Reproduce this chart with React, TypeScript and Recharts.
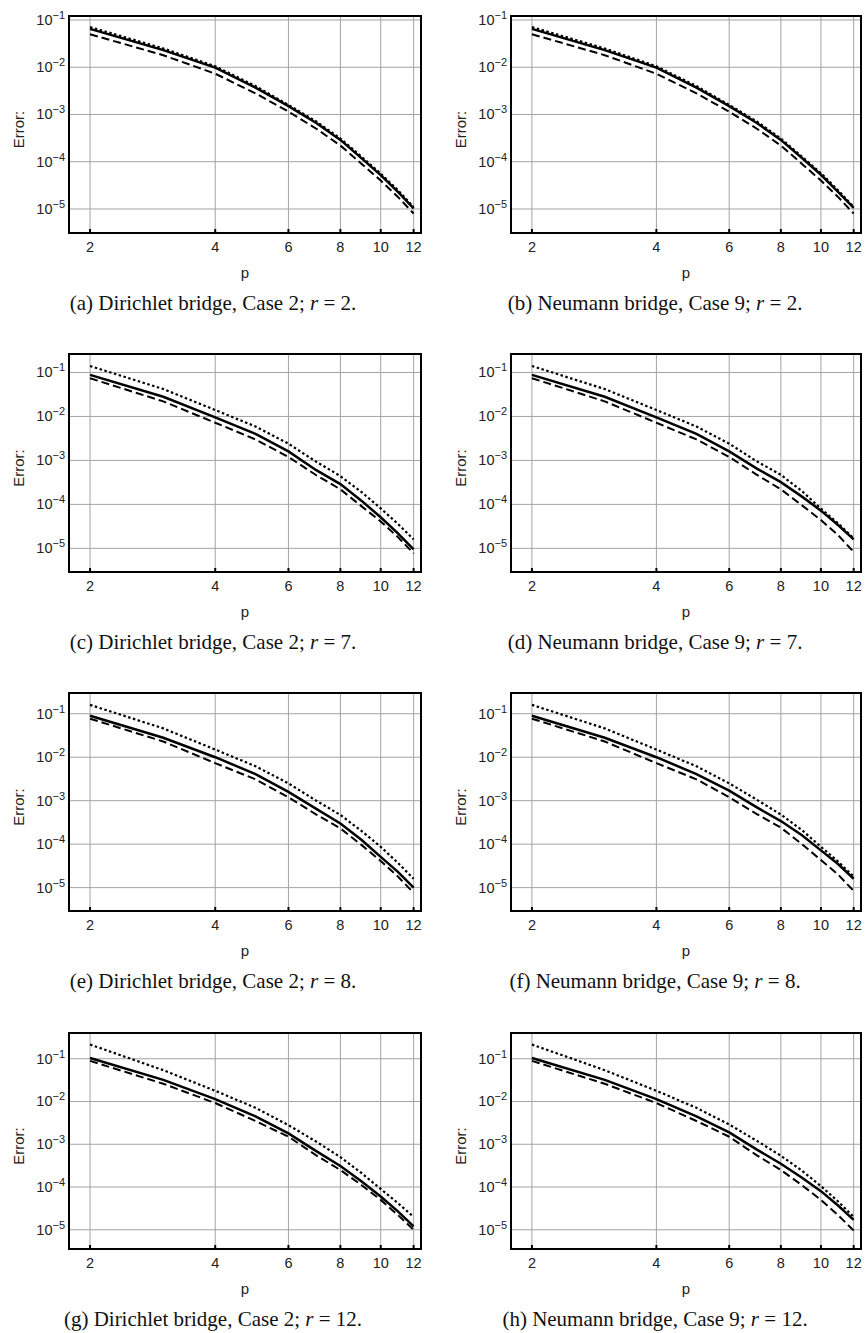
import React from "react";
import { LineChart, Line, XAxis, YAxis, CartesianGrid, ReferenceArea } from "recharts";

// polynomial degree p
const P = [2, 3, 4, 5, 6, 7, 8, 9, 10, 11, 12];

// (a) Dirichlet bridge, Case 2; r = 2
const aSolid = [0.065, 0.023, 0.0098, 0.0037, 0.0015, 6.6e-4, 2.9e-4, 1.18e-4, 5.2e-5, 2.3e-5, 1.03e-5];
const aDashed = [0.05, 0.018, 0.0073, 0.0028, 0.00115, 5e-4, 2.2e-4, 9e-5, 4e-5, 1.8e-5, 8e-6];
const aDotted = [0.071, 0.025, 0.0105, 0.004, 0.0016, 7.1e-4, 3.1e-4, 1.27e-4, 5.6e-5, 2.5e-5, 1.1e-5];

// (b) Neumann bridge, Case 9; r = 2
const bSolid = [0.065, 0.023, 0.0098, 0.0037, 0.0015, 6.6e-4, 2.9e-4, 1.2e-4, 5.3e-5, 2.3e-5, 1.05e-5];
const bDashed = [0.05, 0.018, 0.0073, 0.0028, 0.00115, 5e-4, 2.2e-4, 9e-5, 4e-5, 1.8e-5, 8e-6];
const bDotted = [0.071, 0.025, 0.0105, 0.004, 0.0016, 7.1e-4, 3.1e-4, 1.28e-4, 5.7e-5, 2.5e-5, 1.1e-5];

// (c) Dirichlet bridge, Case 2; r = 7
const cSolid = [0.088, 0.028, 0.0095, 0.004, 0.0016, 6e-4, 2.9e-4, 1.2e-4, 5.1e-5, 2.2e-5, 9.5e-6];
const cDashed = [0.074, 0.022, 0.0072, 0.003, 0.0012, 4.6e-4, 2.2e-4, 9e-5, 4.1e-5, 1.8e-5, 7.7e-6];
const cDotted = [0.14, 0.042, 0.014, 0.0059, 0.0024, 9.3e-4, 4.4e-4, 1.9e-4, 8.1e-5, 3.6e-5, 1.6e-5];

// (d) Neumann bridge, Case 9; r = 7
const dSolid = [0.088, 0.028, 0.0095, 0.004, 0.0016, 6.5e-4, 3.2e-4, 1.5e-4, 7.2e-5, 3.4e-5, 1.6e-5];
const dDashed = [0.074, 0.022, 0.0072, 0.003, 0.0012, 4.7e-4, 2.2e-4, 9.5e-5, 4.4e-5, 2e-5, 8.3e-6];
const dDotted = [0.14, 0.042, 0.014, 0.0059, 0.0024, 9.5e-4, 4.7e-4, 2e-4, 8e-5, 3.7e-5, 1.7e-5];

// (e) Dirichlet bridge, Case 2; r = 8
const eSolid = [0.09, 0.028, 0.01, 0.0041, 0.0016, 6.5e-4, 3e-4, 1.25e-4, 5.1e-5, 2.3e-5, 1e-5];
const eDashed = [0.077, 0.023, 0.0073, 0.0031, 0.0012, 4.8e-4, 2.3e-4, 9.5e-5, 4.1e-5, 1.8e-5, 7.6e-6];
const eDotted = [0.16, 0.046, 0.015, 0.0062, 0.0025, 1e-3, 4.7e-4, 2e-4, 8.7e-5, 3.7e-5, 1.6e-5];

// (f) Neumann bridge, Case 9; r = 8
const fSolid = [0.09, 0.028, 0.01, 0.0041, 0.0017, 7e-4, 3.4e-4, 1.6e-4, 7.2e-5, 3.5e-5, 1.6e-5];
const fDashed = [0.077, 0.023, 0.0073, 0.0031, 0.0012, 4.9e-4, 2.4e-4, 1e-4, 4.3e-5, 2e-5, 8.4e-6];
const fDotted = [0.16, 0.046, 0.015, 0.0062, 0.0025, 1.05e-3, 4.8e-4, 2.1e-4, 8.7e-5, 4e-5, 1.8e-5];

// (g) Dirichlet bridge, Case 2; r = 12
const gSolid = [0.104, 0.032, 0.0114, 0.0045, 0.0018, 6.9e-4, 3.1e-4, 1.35e-4, 6e-5, 2.7e-5, 1.2e-5];
const gDashed = [0.089, 0.026, 0.0092, 0.0035, 0.0015, 5.5e-4, 2.5e-4, 1.1e-4, 5e-5, 2.2e-5, 1e-5];
const gDotted = [0.215, 0.054, 0.0178, 0.0071, 0.0028, 1.15e-3, 5e-4, 2.1e-4, 9e-5, 4.2e-5, 2e-5];

// (h) Neumann bridge, Case 9; r = 12
const hSolid = [0.104, 0.032, 0.0114, 0.0045, 0.0019, 7.5e-4, 3.5e-4, 1.65e-4, 8e-5, 3.7e-5, 1.7e-5];
const hDashed = [0.089, 0.026, 0.0092, 0.0035, 0.0015, 5.5e-4, 2.5e-4, 1.1e-4, 5e-5, 2.2e-5, 9.6e-6];
const hDotted = [0.215, 0.054, 0.0178, 0.0071, 0.0029, 1.2e-3, 5.4e-4, 2.4e-4, 1.05e-4, 4.6e-5, 2e-5];

const xTicks = [2, 4, 6, 8, 10, 12];
const yTicks = [1e-1, 1e-2, 1e-3, 1e-4, 1e-5];
const xDomain: [number, number] = [1.78, 12.5];

const SANS = "'Liberation Sans', Arial, sans-serif";
const SERIF = "'Liberation Serif', 'Times New Roman', serif";

const build = (solid: number[], dashed: number[], dotted: number[]) =>
  P.map((p, i) => ({ p, solid: solid[i], dashed: dashed[i], dotted: dotted[i] }));

const PowTick = ({ x, y, payload }: any) => {
  const e = Math.round(Math.log10(payload.value));
  return (
    <text x={x} y={y + 5} textAnchor="end" fontSize={14.5} fontFamily={SANS} fill="#222">
      10
      <tspan dy={-6} fontSize={11}>{"\u2212" + String(-e)}</tspan>
    </text>
  );
};

const errorLabel = (props: any) => {
  const vb = props.viewBox;
  const cx = vb.x + vb.width - 51;
  const cy = vb.y + vb.height / 2 + 5;
  return (
    <text
      x={cx}
      y={cy}
      transform={`rotate(-90 ${cx} ${cy})`}
      textAnchor="middle"
      dominantBaseline="central"
      fontSize={15}
      fontFamily={SANS}
      fill="#222"
    >
      Error:
    </text>
  );
};

const pLabel = (props: any) => {
  const vb = props.viewBox;
  return (
    <text x={vb.x + vb.width / 2} y={vb.y + 45} textAnchor="middle" fontSize={15} fontFamily={SANS} fill="#222">
      p
    </text>
  );
};

type PanelProps = {
  colX: number;
  plotLeft: number;
  plotW: number;
  plotTop: number;
  plotH: number;
  yDomain: [number, number];
  data: any[];
  captionX: number;
  tag: string;
  name: string;
  r: number;
};

function Panel({ colX, plotLeft, plotW, plotTop, plotH, yDomain, data, captionX, tag, name, r }: PanelProps) {
  const W = 433;
  const H = plotH + 10 + 90;
  return (
    <>
      <div style={{ position: "absolute", left: colX, top: plotTop - 10 }}>
        <LineChart
          width={W}
          height={H}
          data={data}
          margin={{ top: 10, left: plotLeft - colX - 60, right: W - (plotLeft - colX) - plotW, bottom: 60 }}
        >
          <CartesianGrid stroke="#a3a3a3" strokeWidth={1} />
          <XAxis
            dataKey="p"
            type="number"
            scale="log"
            domain={xDomain}
            ticks={xTicks}
            allowDataOverflow
            axisLine={false}
            tickLine={{ stroke: "#000", strokeWidth: 2 }}
            tickSize={-4}
            tickMargin={13}
            height={30}
            tick={{ fontSize: 14.5, fill: "#222", fontFamily: SANS }}
            label={{ content: pLabel }}
          />
          <YAxis
            type="number"
            scale="log"
            domain={yDomain}
            ticks={yTicks}
            allowDataOverflow
            axisLine={false}
            tickLine={false}
            tickSize={0}
            tickMargin={4}
            width={60}
            tick={<PowTick />}
            label={{ content: errorLabel }}
          />
          <Line
            dataKey="dotted"
            stroke="#000"
            strokeWidth={2.2}
            strokeDasharray="2.5 2.5"
            dot={false}
            isAnimationActive={false}
          />
          <Line
            dataKey="dashed"
            stroke="#000"
            strokeWidth={2}
            strokeDasharray="8 4"
            dot={false}
            isAnimationActive={false}
          />
          <Line dataKey="solid" stroke="#000" strokeWidth={2.5} dot={false} isAnimationActive={false} />
          <ReferenceArea
            x1={xDomain[0]}
            x2={xDomain[1]}
            y1={yDomain[0]}
            y2={yDomain[1]}
            fill="none"
            fillOpacity={0}
            stroke="#000"
            strokeWidth={2}
            ifOverflow="visible"
          />
        </LineChart>
      </div>
      <div
        style={{
          position: "absolute",
          left: captionX - 250,
          width: 500,
          top: plotTop + plotH + 57,
          textAlign: "center",
          fontFamily: SERIF,
          fontSize: 21,
          lineHeight: "26px",
          color: "#111",
          whiteSpace: "nowrap",
        }}
      >
        ({tag}) {name}; <i>r</i> = {r}.
      </div>
    </>
  );
}

const rows = [
  { top: 16, h: 217, y: [3.1e-6, 0.1216] as [number, number] },
  { top: 354, h: 218, y: [2.9e-6, 0.263] as [number, number] },
  { top: 693, h: 218, y: [2.9e-6, 0.3] as [number, number] },
  { top: 1033, h: 216, y: [3.55e-6, 0.4] as [number, number] },
];

const left = { colX: 0, plotLeft: 69, plotW: 352, captionX: 213, name: "Dirichlet bridge, Case 2" };
const right = { colX: 433, plotLeft: 511, plotW: 350, captionX: 655, name: "Neumann bridge, Case 9" };

const panels = [
  { col: left, row: rows[0], tag: "a", r: 2, data: build(aSolid, aDashed, aDotted) },
  { col: right, row: rows[0], tag: "b", r: 2, data: build(bSolid, bDashed, bDotted) },
  { col: left, row: rows[1], tag: "c", r: 7, data: build(cSolid, cDashed, cDotted) },
  { col: right, row: rows[1], tag: "d", r: 7, data: build(dSolid, dDashed, dDotted) },
  { col: left, row: rows[2], tag: "e", r: 8, data: build(eSolid, eDashed, eDotted) },
  { col: right, row: rows[2], tag: "f", r: 8, data: build(fSolid, fDashed, fDotted) },
  { col: left, row: rows[3], tag: "g", r: 12, data: build(gSolid, gDashed, gDotted) },
  { col: right, row: rows[3], tag: "h", r: 12, data: build(hSolid, hDashed, hDotted) },
];

export default function App() {
  return (
    <div style={{ position: "absolute", left: 0, top: 0, width: 866, height: 1333, background: "#fff" }}>
      {panels.map((pn) => (
        <Panel
          key={pn.tag}
          colX={pn.col.colX}
          plotLeft={pn.col.plotLeft}
          plotW={pn.col.plotW}
          plotTop={pn.row.top}
          plotH={pn.row.h}
          yDomain={pn.row.y}
          data={pn.data}
          captionX={pn.col.captionX}
          tag={pn.tag}
          name={pn.col.name}
          r={pn.r}
        />
      ))}
    </div>
  );
}
